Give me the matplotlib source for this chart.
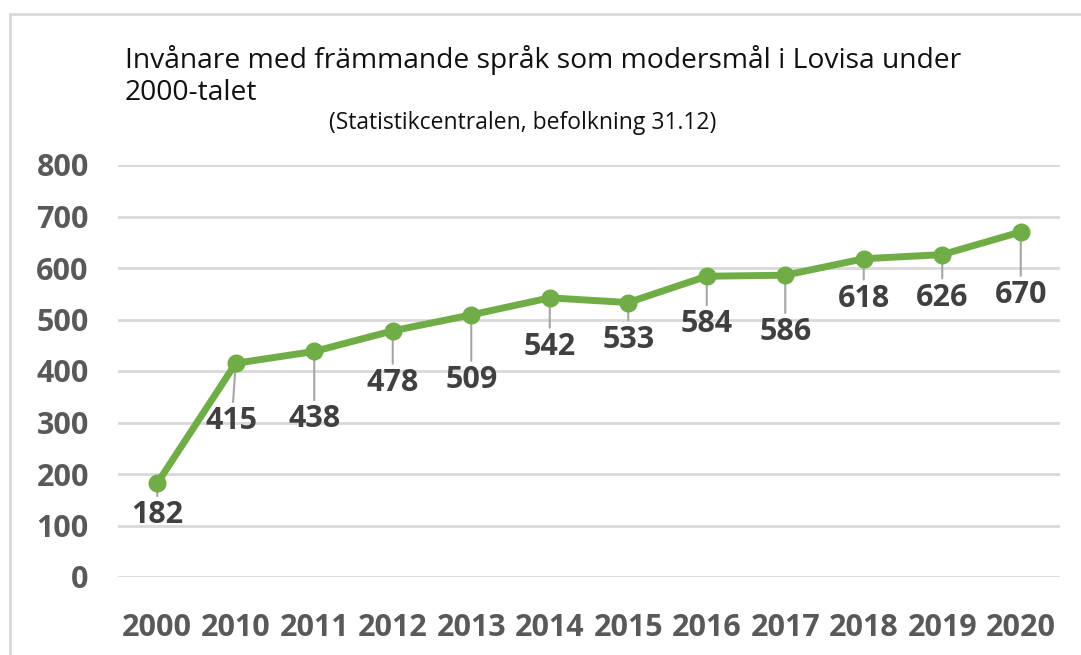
import matplotlib
matplotlib.use("Agg")
import matplotlib.pyplot as plt
from matplotlib.patches import Rectangle

years = ["2000", "2010", "2011", "2012", "2013", "2014", "2015", "2016", "2017", "2018", "2019", "2020"]
values = [182, 415, 438, 478, 509, 542, 533, 584, 586, 618, 626, 670]
yticks = [0, 100, 200, 300, 400, 500, 600, 700, 800]
title = "Invånare med främmande språk som modersmål i Lovisa under\n2000-talet"
subtitle = "(Statistikcentralen, befolkning 31.12)"

# label offsets below each point (pixels), layout only
label_dy = [32, 58, 68, 52, 65, 49, 37, 48, 57, 40, 43, 63]
label_dx = [0, -4, 0, 0, 0, 0, 0, 0, 0, 0, 0, 0]

plt.rcParams['font.family'] = ['Open Sans', 'DejaVu Sans']

fig = plt.figure(figsize=(10.81, 6.55), dpi=100)
fig.patch.set_facecolor("white")

# outer border
fig.patches.append(Rectangle((10/1081, -0.1), 1.2, 1 - 14/655 + 0.1, transform=fig.transFigure,
                             fill=False, edgecolor="#d9d9d9", linewidth=2))

ax = fig.add_axes([118/1081, 1 - 577/655, 942/1081, (577 - 165)/655])
x = list(range(len(years)))
ax.set_xlim(-0.5, len(years) - 0.5)
ax.set_ylim(0, 800)
ax.set_yticks(yticks)
ax.set_yticklabels([str(t) for t in yticks])
ax.set_xticks(x)
ax.set_xticklabels(years)
ax.grid(axis="y", color="#d9d9d9", linewidth=2)
ax.set_axisbelow(True)
for s in ax.spines.values():
    s.set_visible(False)
ax.tick_params(length=0, colors="#595959", labelsize=22)
for lab in ax.get_xticklabels() + ax.get_yticklabels():
    lab.set_fontweight("bold")
ax.tick_params(axis="y", pad=21)
ax.tick_params(axis="x", pad=26)

ax.plot(x, values, color="#70ad47", linewidth=5, marker="o", markersize=12,
        solid_capstyle="round", zorder=4)

for xi, v, dy, dx in zip(x, values, label_dy, label_dx):
    ax.annotate(str(v), xy=(xi, v), xytext=(dx, -dy), textcoords="offset pixels",
                ha="center", va="center", fontsize=22, fontweight="bold", color="#404040",
                arrowprops=dict(arrowstyle="-", color="#a6a6a6", linewidth=1.5,
                                shrinkA=1, shrinkB=0), zorder=3)

fig.text(125/1081, 1 - 76/655, title, fontsize=20.3, color="#111111", ha="left", va="center",
         linespacing=1.22)
fig.text(523/1081, 1 - 123/655, subtitle, fontsize=16.5, color="#111111", ha="center", va="center")

fig.savefig("out.png", dpi=100)
